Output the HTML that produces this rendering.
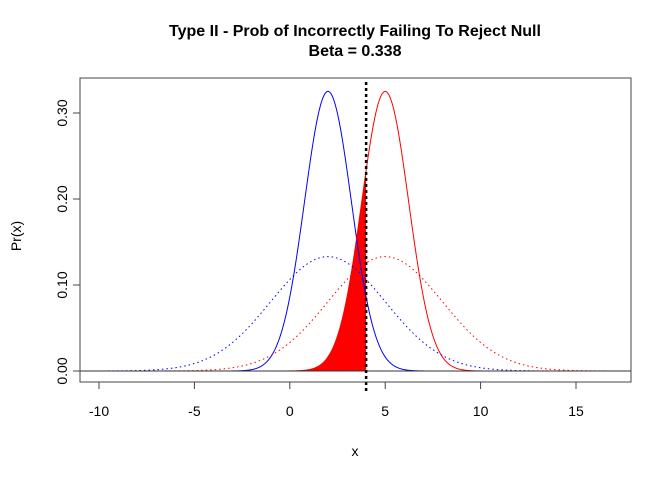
<!DOCTYPE html>
<html><head><meta charset="utf-8"><style>
body{margin:0;background:#fff}
svg text{font-family:"Liberation Sans",sans-serif}
</style></head><body>
<svg width="672" height="480" viewBox="0 0 672 480">
<text x="355" y="36" text-anchor="middle" font-size="16" font-weight="bold">Type II - Prob of Incorrectly Failing To Reject Null</text>
<text x="355" y="56" text-anchor="middle" font-size="16" font-weight="bold">Beta = 0.338</text>
<text x="355" y="456" text-anchor="middle" font-size="14">x</text>
<text transform="translate(21,236) rotate(-90)" text-anchor="middle" font-size="14">Pr(x)</text>
<g id="plot"></g>
</svg>
<script>
const xTicks=[-10,-5,0,5,10,15];
const yTicks=[0,0.1,0.2,0.3];
const yTickLabels=["0.00","0.10","0.20","0.30"];
const seriesNames=["h0-narrow","h1-narrow","h0-wide","h1-wide"];
const seriesMeans=[2,5,2,5];
const seriesSds=[1.227,1.227,3,3];
const seriesFrom=[-3.5,-0.7,-10,-7];
const seriesTo=[7.5,10.5,14,17];
const seriesColors=["#0000ff","#ff0000","#0000ff","#ff0000"];
const seriesDotted=[false,false,true,true];
const critical=4;
const fillFrom=-0.7;
const L=80,R=631,T=78,B=382;
const X=v=>289.8+v*19.08;
const Y=v=>371-v*860;
const ns="http://www.w3.org/2000/svg";
const g=document.getElementById('plot');
function mk(t,a){const e=document.createElementNS(ns,t);for(const k in a)e.setAttribute(k,a[k]);g.appendChild(e);return e;}
function dn(m,s,x){return Math.exp(-0.5*((x-m)/s)**2)/(s*Math.sqrt(2*Math.PI));}
let pts=[[X(fillFrom),Y(0)]];
for(let x=fillFrom;x<=critical+1e-9;x+=0.02)pts.push([X(x),Y(dn(seriesMeans[1],seriesSds[1],x))]);
pts.push([X(critical),Y(dn(seriesMeans[1],seriesSds[1],critical))],[X(critical),Y(0)]);
let f=mk('polygon',{points:pts.map(p=>p.join(',')).join(' '),fill:'#ff0000'});


for(let i=0;i<seriesNames.length;i++){
 let p=[];
 for(let x=seriesFrom[i];x<=seriesTo[i]+1e-9;x+=0.05)p.push(X(x).toFixed(2)+','+Y(dn(seriesMeans[i],seriesSds[i],x)).toFixed(2));
 let e=mk('polyline',{points:p.join(' '),fill:'none',stroke:seriesColors[i],'stroke-width':1,'stroke-dasharray':seriesDotted[i]?'1.5 3':'none'});
 
 
}
let h=mk('line',{x1:L,x2:R,y1:Y(0),y2:Y(0),stroke:'#333','stroke-width':1});


let v=mk('line',{x1:X(critical),x2:X(critical),y1:82,y2:392,stroke:'#000','stroke-width':2.5,'stroke-dasharray':'3 3'});


let box=mk('rect',{x:L,y:T,width:R-L,height:B-T,fill:'none',stroke:'#444','stroke-width':1});


let ax=mk('line',{x1:X(xTicks[0]),x2:X(xTicks[xTicks.length-1]),y1:B,y2:B,stroke:'#444'});


xTicks.forEach(t=>{
 let l=mk('line',{x1:X(t),x2:X(t),y1:B,y2:B+7,stroke:'#444'});
 
 
 let tx=mk('text',{x:X(t),y:416,'text-anchor':'middle','font-size':14});
 tx.textContent=t;
 
 
});
let ay=mk('line',{x1:L,x2:L,y1:Y(0),y2:Y(0.3),stroke:'#444'});


yTicks.forEach((t,i)=>{
 let l=mk('line',{x1:L-7,x2:L,y1:Y(t),y2:Y(t),stroke:'#444'});
 
 
 let tx=mk('text',{transform:`translate(67,${Y(t)}) rotate(-90)`,'text-anchor':'middle','font-size':14});
 tx.textContent=yTickLabels[i];
 
 
});
</script>
</body></html>
